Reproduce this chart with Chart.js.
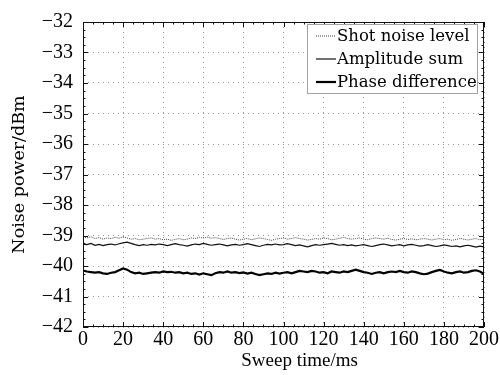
<!DOCTYPE html>
<html>
<head>
<meta charset="utf-8">
<script src="https://cdn.jsdelivr.net/npm/chart.js@4.4.1/dist/chart.umd.min.js"></script>
<style>
  html, body { margin: 0; padding: 0; background: #fff; }
  #wrap { width: 500px; height: 375px; }
</style>
</head>
<body>
<div id="wrap"><canvas id="c" width="500" height="375"></canvas></div>
<script>
// sweep time, ms (step 2)
const sweepTime = [];
for (let t = 0; t <= 200; t += 2) sweepTime.push(t);

const shotNoise = [
  -39.05,-39.08,-39.04,-39.1,-39.07,-39.12,-39.08,-39.1,-39.06,-39.09,-39.04,-39.08,-39.12,-39.1,-39.14,-39.12,-39.1,-39.08,-39.12,-39.1,
  -39.14,-39.12,-39.16,-39.13,-39.1,-39.14,-39.12,-39.08,-39.1,-39.06,-39.08,-39.05,-39.09,-39.07,-39.1,-39.13,-39.1,-39.08,-39.12,-39.15,
  -39.12,-39.1,-39.14,-39.11,-39.08,-39.1,-39.13,-39.16,-39.12,-39.1,-39.08,-39.12,-39.1,-39.07,-39.1,-39.12,-39.15,-39.13,-39.1,-39.12,
  -39.08,-39.1,-39.14,-39.12,-39.09,-39.06,-39.1,-39.12,-39.1,-39.08,-39.12,-39.14,-39.1,-39.08,-39.1,-39.12,-39.09,-39.13,-39.15,-39.12,
  -39.1,-39.13,-39.11,-39.14,-39.12,-39.1,-39.12,-39.15,-39.12,-39.1,-39.14,-39.12,-39.16,-39.13,-39.1,-39.12,-39.15,-39.12,-39.1,-39.14,-39.12
];

const amplitudeSum = [
  -39.28,-39.3,-39.26,-39.32,-39.29,-39.33,-39.3,-39.28,-39.31,-39.27,-39.24,-39.22,-39.26,-39.3,-39.33,-39.3,-39.32,-39.29,-39.31,-39.28,
  -39.3,-39.33,-39.3,-39.27,-39.3,-39.32,-39.35,-39.31,-39.28,-39.3,-39.26,-39.29,-39.32,-39.3,-39.28,-39.31,-39.34,-39.31,-39.29,-39.32,
  -39.3,-39.27,-39.3,-39.33,-39.36,-39.32,-39.29,-39.31,-39.28,-39.31,-39.3,-39.27,-39.3,-39.33,-39.31,-39.34,-39.37,-39.33,-39.3,-39.32,
  -39.3,-39.28,-39.26,-39.29,-39.32,-39.3,-39.33,-39.31,-39.34,-39.32,-39.3,-39.33,-39.36,-39.33,-39.3,-39.28,-39.31,-39.34,-39.32,-39.3,
  -39.34,-39.31,-39.29,-39.32,-39.35,-39.33,-39.3,-39.33,-39.36,-39.34,-39.31,-39.33,-39.36,-39.34,-39.37,-39.34,-39.32,-39.35,-39.38,-39.35,-39.37
];

const phaseDifference = [
  -40.15,-40.18,-40.2,-40.22,-40.2,-40.24,-40.26,-40.22,-40.2,-40.14,-40.08,-40.12,-40.2,-40.24,-40.22,-40.26,-40.24,-40.22,-40.2,-40.22,
  -40.18,-40.2,-40.19,-40.22,-40.2,-40.24,-40.22,-40.26,-40.24,-40.28,-40.24,-40.27,-40.3,-40.24,-40.2,-40.22,-40.18,-40.22,-40.2,-40.23,
  -40.21,-40.25,-40.22,-40.26,-40.3,-40.27,-40.24,-40.26,-40.22,-40.25,-40.22,-40.2,-40.24,-40.2,-40.16,-40.18,-40.2,-40.16,-40.18,-40.22,
  -40.2,-40.24,-40.18,-40.2,-40.22,-40.18,-40.2,-40.16,-40.12,-40.16,-40.2,-40.22,-40.26,-40.22,-40.2,-40.24,-40.2,-40.18,-40.2,-40.16,
  -40.2,-40.22,-40.18,-40.2,-40.24,-40.27,-40.25,-40.2,-40.16,-40.13,-40.18,-40.22,-40.24,-40.2,-40.18,-40.22,-40.2,-40.16,-40.14,-40.18,-40.26
];

const seriesNames = ['Shot noise level', 'Amplitude sum', 'Phase difference'];
const xTicks = [0, 20, 40, 60, 80, 100, 120, 140, 160, 180, 200];
const yTicks = [-42, -41, -40, -39, -38, -37, -36, -35, -34, -33, -32];
const xTitle = 'Sweep time/ms';
const yTitle = 'Noise power/dBm';

const TIMES = '"Liberation Serif", serif';
const WIDE = '"DejaVu Serif", serif';
const minus = function (v) { return String(v).replace('-', '\u2212'); };

function pts(ys) {
  return ys.map(function (y, i) { return { x: sweepTime[i], y: y }; });
}

// box, inward ticks on all four sides, x title and the legend
const framePlugin = {
  id: 'frame',
  afterDraw: function (chart) {
    const ctx = chart.ctx;
    const a = chart.chartArea;
    const xs = chart.scales.x, ys = chart.scales.y;
    ctx.save();
    ctx.strokeStyle = '#111';
    ctx.lineWidth = 1;
    ctx.setLineDash([]);
    ctx.strokeRect(a.left + 0.5, a.top + 0.5, a.right - a.left - 1, a.bottom - a.top - 1);

    ctx.beginPath();
    for (let v = 0; v <= 200; v += 5) {
      const px = Math.round(xs.getPixelForValue(v)) + 0.5;
      const len = v % 20 === 0 ? 5 : 2.5;
      ctx.moveTo(px, a.bottom); ctx.lineTo(px, a.bottom - len);
      ctx.moveTo(px, a.top); ctx.lineTo(px, a.top + len);
    }
    for (let k = 0; k <= 40; k++) {
      const v = -42 + k * 0.25;
      const py = Math.round(ys.getPixelForValue(v)) + 0.5;
      const len = k % 4 === 0 ? 5 : 2.5;
      ctx.moveTo(a.left, py); ctx.lineTo(a.left + len, py);
      ctx.moveTo(a.right, py); ctx.lineTo(a.right - len, py);
    }
    ctx.stroke();

    // x axis title, sits a little right of the plot centre in the original
    ctx.fillStyle = '#000';
    ctx.font = '19px ' + TIMES;
    ctx.textAlign = 'center';
    ctx.textBaseline = 'alphabetic';
    ctx.fillText(xTitle, xs.getPixelForValue(108), 366);

    // legend
    const lx = 307, ly = 24, lw = 170, lh = 69;
    ctx.textAlign = 'left';
    ctx.fillStyle = '#fff';
    ctx.fillRect(lx, ly, lw, lh);
    ctx.strokeStyle = '#444';
    ctx.setLineDash([1, 1]);
    ctx.strokeRect(lx + 0.5, ly + 0.5, lw, lh);
    ctx.font = '16.5px ' + WIDE;
    ctx.textBaseline = 'middle';
    chart.data.datasets.forEach(function (ds, i) {
      const cy = ly + 12 + i * 23;
      ctx.strokeStyle = ds.borderColor;
      ctx.lineWidth = ds.borderWidth;
      ctx.setLineDash(ds.borderDash || []);
      ctx.beginPath();
      ctx.moveTo(lx + 9, cy); ctx.lineTo(lx + 29, cy);
      ctx.stroke();
      ctx.fillStyle = '#000';
      ctx.fillText(ds.label, lx + 30, cy + 1);
    });
    ctx.restore();
  }
};

new Chart(document.getElementById('c'), {
  type: 'line',
  data: {
    datasets: [
      { label: seriesNames[0], data: pts(shotNoise), borderColor: '#444', borderWidth: 1, borderDash: [1, 1] },
      { label: seriesNames[1], data: pts(amplitudeSum), borderColor: '#111', borderWidth: 1.2 },
      { label: seriesNames[2], data: pts(phaseDifference), borderColor: '#000', borderWidth: 2.2 }
    ]
  },
  options: {
    responsive: false,
    animation: false,
    events: [],
    elements: { point: { radius: 0 }, line: { tension: 0 } },
    layout: { padding: { top: 17, right: 16, left: 0, bottom: 0 } },
    plugins: { legend: { display: false }, tooltip: { enabled: false } },
    scales: {
      x: {
        type: 'linear', min: 0, max: 200,
        afterBuildTicks: function (s) { s.ticks = xTicks.map(function (v) { return { value: v }; }); },
        afterFit: function (s) { s.height = 48; },
        ticks: { color: '#000', font: { family: TIMES, size: 20 }, padding: 1, maxRotation: 0 },
        grid: { color: '#999', lineWidth: 1, drawTicks: false },
        border: { display: false, dash: [1, 4] }
      },
      y: {
        type: 'linear', min: -42, max: -32,
        afterBuildTicks: function (s) { s.ticks = yTicks.map(function (v) { return { value: v }; }); },
        afterFit: function (s) { s.width = 83; },
        ticks: { color: '#000', font: { family: TIMES, size: 20 }, padding: 10, callback: minus },
        grid: { color: '#999', lineWidth: 1, drawTicks: false },
        border: { display: false, dash: [1, 4] },
        title: { display: true, text: yTitle, color: '#000', font: { family: WIDE, size: 17.5 }, padding: { top: 9, bottom: 0 } }
      }
    }
  },
  plugins: [framePlugin]
});
</script>
</body>
</html>
